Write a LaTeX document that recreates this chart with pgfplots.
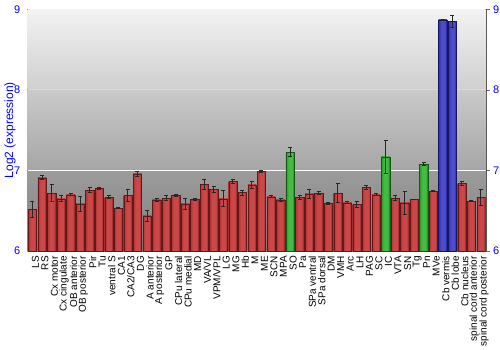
\documentclass[border=0pt]{standalone}
\usepackage{pgfplots}
\usepackage{pgfplotstable}
\pgfplotsset{compat=1.18}
\usepackage{fontspec}
\setmainfont{Liberation Sans}
\definecolor{redA}{HTML}{8A2222}
\definecolor{redB}{HTML}{CC4848}
\definecolor{redC}{HTML}{AE3636}
\definecolor{grnA}{HTML}{1E7A1E}
\definecolor{grnB}{HTML}{44BC44}
\definecolor{grnC}{HTML}{2E9A2E}
\definecolor{bluA}{HTML}{1E1E8A}
\definecolor{bluB}{HTML}{4C4CCC}
\definecolor{bluC}{HTML}{3434AE}
\pgfdeclarehorizontalshading{redbar}{100bp}{color(0bp)=(redC); color(25bp)=(redC); color(42bp)=(redB); color(62bp)=(redB); color(75bp)=(redA); color(100bp)=(redA)}
\pgfdeclarehorizontalshading{grnbar}{100bp}{color(0bp)=(grnC); color(25bp)=(grnC); color(42bp)=(grnB); color(62bp)=(grnB); color(75bp)=(grnA); color(100bp)=(grnA)}
\pgfdeclarehorizontalshading{blubar}{100bp}{color(0bp)=(bluC); color(25bp)=(bluC); color(42bp)=(bluB); color(62bp)=(bluB); color(75bp)=(bluA); color(100bp)=(bluA)}
\pgfplotstableread{
x y e
0 6.52 0.10
1 6.91 0.025
2 6.72 0.11
3 6.65 0.04
4 6.70 0.015
5 6.585 0.09
6 6.755 0.03
7 6.775 0.01
8 6.67 0.02
9 6.53 0.005
10 6.69 0.07
11 6.96 0.03
12 6.435 0.07
13 6.635 0.017
14 6.655 0.03
15 6.69 0.012
16 6.585 0.07
17 6.645 0.012
18 6.83 0.06
19 6.765 0.037
20 6.65 0.10
21 6.865 0.03
22 6.725 0.033
23 6.82 0.047
24 6.99 0.012
25 6.675 0.015
26 6.635 0.023
28 6.665 0.03
29 6.71 0.06
30 6.72 0.017
31 6.59 0.017
32 6.72 0.115
33 6.60 0.01
34 6.58 0.033
35 6.79 0.03
36 6.70 0.012
38 6.655 0.033
39 6.60 0.14
40 6.64 0.005
42 6.745 0.005
45 6.84 0.027
46 6.62 0.005
47 6.67 0.10
}\redtable
\pgfplotstableread{
x y e
27 7.226 0.056
37 7.168 0.21
41 7.08 0.02
}\grntable
\pgfplotstableread{
x y e
43 8.87 0.012
44 8.853 0.07
}\blutable
\begin{document}
\begin{tikzpicture}
\useasboundingbox (-27.7pt,-99pt) rectangle (472.3pt,251pt);
\begin{axis}[
  at={(0,0)}, anchor=south west,
  scale only axis, width=458pt, height=241.5pt,
  xmin=-0.5, xmax=47.5, ymin=6, ymax=9,
  ytick={6,7,8,9},
  xtick={0,...,47},
  xticklabels={LS,RS,Cx motor,Cx cingulate,OB anterior,OB posterior,Pir,Tu,ventral S,CA1,CA2/CA3,DG,A anterior,A posterior,GP,CPu lateral,CPu medial,MD,VA/VL,VPM/VPL,LG,MG,Hb,M,ME,SCN,MPA,SO,Pa,SPa ventral,SPa dorsal,DM,VMH,Arc,LH,PAG,SC,IC,VTA,SN,Tg,Pn,MVe,Cb vermis,Cb lobe,Cb nucleus,spinal cord anterior,spinal cord posterior},
  x tick style={draw=none},
  xticklabel style={rotate=90, anchor=east, font=\fontsize{10}{12}\selectfont, inner sep=1pt, yshift=-3pt},
  yticklabel style={blue, font=\fontsize{11}{13}\selectfont},
  /pgf/number format/assume math mode=true,
  ytick pos=right,
  yticklabel pos=left,
  y tick style={gray!80!black},
  tick align=outside, major tick length=4pt,
  axis line style={gray!70!black},
  separate axis lines,
  x axis line style={draw=none},
  ylabel={Log2 (expression)},
  ylabel style={blue, font=\fontsize{12}{14}\selectfont, at={(axis description cs:-0.0386,0.5)}, anchor=center},
  ybar, bar shift=0pt, bar width=0.87,
  error bars/error bar style={black!85, line width=0.9pt},
  error bars/error mark options={rotate=90, mark size=2pt, line width=0.9pt, black!85},
]
% background bands
\fill[top color=black!5, bottom color=black!19] (axis cs:-0.5,8) rectangle (axis cs:47.5,9);
\fill[top color=black!21, bottom color=black!35] (axis cs:-0.5,7) rectangle (axis cs:47.5,8);
\fill[top color=black!39, bottom color=black!50] (axis cs:-0.5,6) rectangle (axis cs:47.5,7);
\draw[black!14, line width=1pt] (axis cs:-0.5,8) -- (axis cs:47.5,8);
\draw[white, line width=1pt] (axis cs:-0.5,7) -- (axis cs:47.5,7);
\pgfplotsinvokeforeach{0,...,42}{
\addplot[draw=redA!70!black, line width=0.3pt, shading=redbar,
  restrict expr to domain={\coordindex}{#1:#1},
  error bars/.cd, y dir=both, y explicit]
 table[x=x, y=y, y error=e] {\redtable};
}
\pgfplotsinvokeforeach{0,1,2}{
\addplot[draw=grnA!70!black, line width=0.3pt, shading=grnbar,
  restrict expr to domain={\coordindex}{#1:#1},
  error bars/.cd, y dir=both, y explicit]
 table[x=x, y=y, y error=e] {\grntable};
}
\pgfplotsinvokeforeach{0,1}{
\addplot[draw=bluA!70!black, line width=0.3pt, shading=blubar,
  restrict expr to domain={\coordindex}{#1:#1},
  error bars/.cd, y dir=both, y explicit]
 table[x=x, y=y, y error=e] {\blutable};
}
\end{axis}
\begin{axis}[
  at={(0,0)}, anchor=south west,
  scale only axis, width=458pt, height=241.5pt,
  xmin=-0.5, xmax=47.5, ymin=6, ymax=9,
  ytick={6,7,8,9}, xtick=\empty,
  axis y line*=right, axis x line=none,
  axis line style={gray!70!black, -},
  y tick style={gray!80!black},
  tick align=outside, major tick length=4pt,
  yticklabel style={blue, font=\fontsize{11}{13}\selectfont},
  /pgf/number format/assume math mode=true,
]
\end{axis}
\end{tikzpicture}
\end{document}
